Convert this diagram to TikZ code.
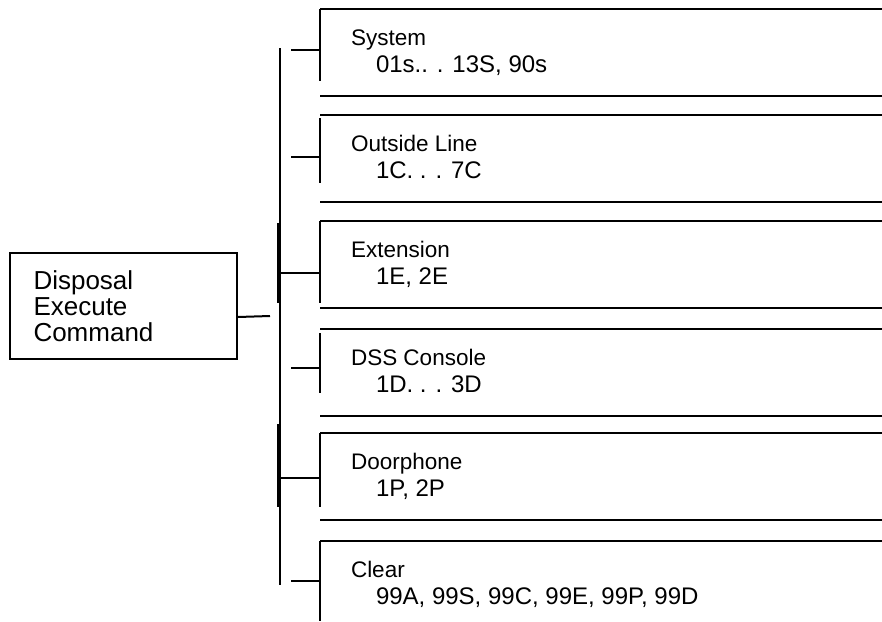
\documentclass[tikz,border=0pt]{standalone}
\usepackage{fontspec}
\setmainfont{Liberation Sans}

\begin{document}
\begin{tikzpicture}[x=1pt,y=1pt,line width=2pt,
    item/.style={anchor=north west,minimum width=562pt,minimum height=85pt,inner sep=0pt},
    title/.style={anchor=base west,inner sep=0pt,font=\fontsize{22.5}{24}\selectfont},
    codes/.style={anchor=base west,inner sep=0pt,font=\fontsize{24}{26}\selectfont}]
    \useasboundingbox (0,0) rectangle (882,-621);
    % command box and bus
    \node[draw,anchor=north west,minimum width=227pt,minimum height=106pt,inner sep=0pt,
        text width=180pt,align=left,font=\fontsize{26}{26}\selectfont] (root) at (9,-252)
        {Disposal\\Execute\\Command};
    \coordinate (bustop) at (280,-48);
    \coordinate (busbot) at (280,-585);
    \coordinate (rootend) at (270,-316);
    \draw ([yshift=-11pt]root.east) -- (rootend);
    \draw (bustop) -- (busbot);
    \draw[line width=3.5pt] (279,-223) -- (279,-303);
    \draw[line width=3.5pt] (279,-424) -- (279,-507);
    % items: name/top/tick from/tick to/branch y/branch x/title/codes
    \foreach \nm/\ty/\ta/\tb/\by/\bx/\ttl/\codes in {
        sys/9/9/81/50/291/System/{01s.. . 13S, 90s},
        out/115/118/183/157/291/Outside Line/{1C. . . 7C},
        ext/221/221/303/273/280/Extension/{1E, 2E},
        dss/329/333/393/368/291/DSS Console/{1D. . . 3D},
        door/433/433/507/478/280/Doorphone/{1P, 2P},
        clr/541/541/621/581/291/Clear/{99A, 99S, 99C, 99E, 99P, 99D}} {
        \node[item] (\nm) at (320,-\ty) {};
        \draw (\nm.north west) -- (\nm.north east);
        \draw (320,-\ta) -- (320,-\tb);
        \coordinate (\nm-in) at (\bx,-\by);
        \draw (\nm-in) -- (\nm-in -| \nm.west);
        \node[title] (\nm-t) at ([shift={(30,-36)}]\nm.north west) {\ttl};
        \node[codes] (\nm-c) at ([shift={(55,-63)}]\nm.north west) {\codes};
    }
    \foreach \nm in {sys,out,ext,dss,door}
        \draw (\nm.south west) -- (\nm.south east);
\end{tikzpicture}
\end{document}
